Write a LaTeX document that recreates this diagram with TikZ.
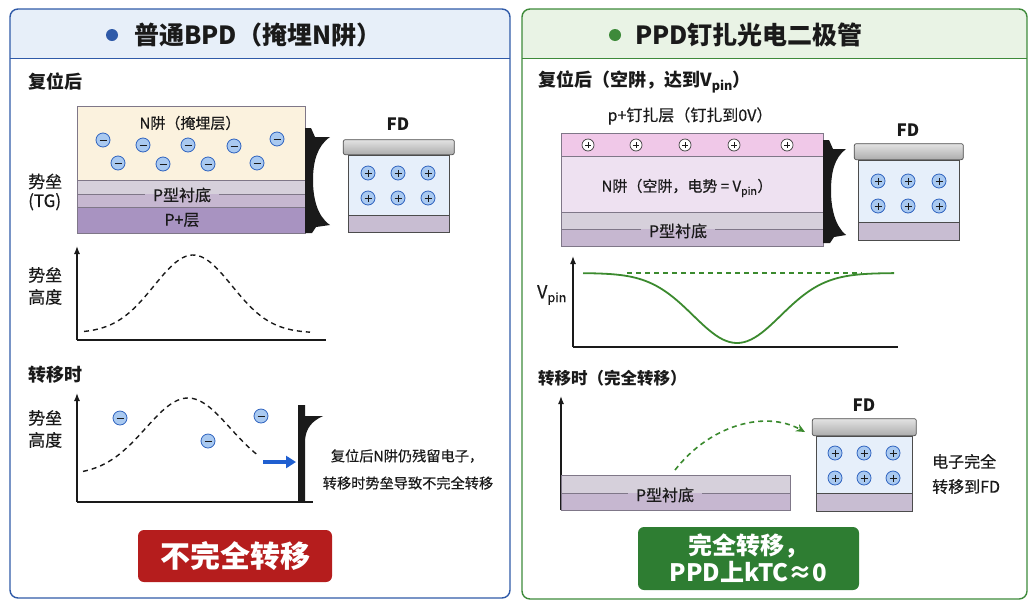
\documentclass[tikz,border=0pt]{standalone}
\usepackage{fontspec}
\setmainfont{Noto Sans CJK SC}[UprightFeatures={FakeBold=0.4}]
\usetikzlibrary{positioning, arrows.meta, calc}

\definecolor{lborder}{HTML}{2F5AA8}
\definecolor{lhead}{HTML}{E7EFF9}
\definecolor{rborder}{HTML}{3E8A3A}
\definecolor{rhead}{HTML}{E9F3E5}
\definecolor{ncream}{HTML}{FBF2DE}
\definecolor{subtop}{HTML}{D6D0DB}
\definecolor{subbot}{HTML}{C6B7D0}
\definecolor{pplus}{HTML}{A893C1}
\definecolor{layeredge}{HTML}{7F7788}
\definecolor{elecfill}{HTML}{A9C9F0}
\definecolor{elecedge}{HTML}{2F63BF}
\definecolor{fdfill}{HTML}{E6EFFA}
\definecolor{fdstrip}{HTML}{C8BDD2}
\definecolor{pinpink}{HTML}{F0C8E8}
\definecolor{nlav}{HTML}{EEE1F1}
\definecolor{curvegreen}{HTML}{3B8A2E}
\definecolor{arrowblue}{HTML}{1F5FD0}
\definecolor{btnred}{HTML}{B51D1D}
\definecolor{btngreen}{HTML}{2E7D32}
\definecolor{ink}{HTML}{1A1A1A}

\begin{document}
\begin{tikzpicture}[x=1pt, y=-1pt,
  layer/.style={draw=layeredge, line width=0.6pt, inner sep=0pt, anchor=north west},
  subsplit/.style={layer, fill=subbot, path picture={\fill[subtop] (path picture bounding box.north west) rectangle (path picture bounding box.east);}},
  elec/.style={circle, draw=elecedge, fill=elecfill, line width=0.8pt, minimum size=14pt, inner sep=0pt,
    path picture={\draw[ink, line width=1pt] ([xshift=-3.5pt]path picture bounding box.center) -- ([xshift=3.5pt]path picture bounding box.center);}},
  hole/.style={circle, draw=elecedge, fill=elecfill, line width=0.8pt, minimum size=14pt, inner sep=0pt,
    path picture={\draw[ink, line width=1pt] ([xshift=-3.5pt]path picture bounding box.center) -- ([xshift=3.5pt]path picture bounding box.center)
      ([yshift=-3.5pt]path picture bounding box.center) -- ([yshift=3.5pt]path picture bounding box.center);}},
  pinhole/.style={circle, draw=ink!85, fill=white, line width=0.7pt, minimum size=12pt, inner sep=0pt,
    path picture={\draw[ink, line width=0.8pt] ([xshift=-3pt]path picture bounding box.center) -- ([xshift=3pt]path picture bounding box.center)
      ([yshift=-3pt]path picture bounding box.center) -- ([yshift=3pt]path picture bounding box.center);}},
  fdcap/.style={draw=gray!60!black, line width=0.7pt, rounded corners=2pt, top color=gray!22, bottom color=gray!65, inner sep=0pt},
  fdwell/.style={draw=gray!60!black, line width=0.6pt, fill=fdfill, inner sep=0pt},
  fdsub/.style={draw=gray!60!black, line width=0.6pt, fill=fdstrip, inner sep=0pt},
  txt/.style={text=ink, inner sep=0pt},
  axis/.style={ink, line width=1.3pt},
  barrier/.style={dash pattern=on 5pt off 4pt, line width=1.4pt, ink}]

\useasboundingbox (0,0) rectangle (1035,611);

% left panel
\begin{scope}
  \clip[rounded corners=8pt] (10,9) rectangle (510,598);
  \fill[lhead] (10,9) rectangle (510,58);
\end{scope}
\draw[lborder, line width=1.4pt, rounded corners=8pt] (10,9) rectangle (510,598);
\draw[lborder, line width=1pt] (10,58) -- (510,58);
\node[circle, fill=lborder, minimum size=12pt, inner sep=0pt] (ldot) at (112,35) {};
\node[txt, font=\bfseries\fontsize{25}{30}\selectfont, right=16pt of ldot] (ltitle) {普通BPD（掩埋N阱）};

\node[txt, font=\bfseries\fontsize{18}{22}\selectfont, anchor=west] (lreset) at (28,82) {复位后};
\node[txt, font=\fontsize{17}{19}\selectfont, align=left, anchor=west] (ltg) at (28,192) {势垒\\(TG)};

\node[layer, fill=ncream, minimum width=228pt, minimum height=74pt] (lwell) at (77,106) {};
\node[subsplit, minimum width=228pt, minimum height=27pt] (lsub) at (77,180) {};
\node[layer, fill=pplus, minimum width=228pt, minimum height=26pt] (lplus) at (77,207) {};
\node[txt, font=\fontsize{15}{18}\selectfont] (lwelltxt) at (190,123) {N阱（掩埋层）};
\node[txt, font=\fontsize{16}{18}\selectfont, fill=none] (lsubtxt) at (182,195) {P型衬底};
\draw[layeredge, line width=0.6pt] (lsub.west) -- ([xshift=-8pt]lsubtxt.west |- lsub.west);
\draw[layeredge, line width=0.6pt] ([xshift=8pt]lsubtxt.east |- lsub.east) -- (lsub.east);
\node[txt, font=\fontsize{16}{18}\selectfont] (lplustxt) at (182,220) {P+层};

\node[elec] (le1) at (103,140) {};
\node[elec] (le2) at (143,145) {};
\node[elec] (le3) at (188,145) {};
\node[elec] (le4) at (234,146) {};
\node[elec] (le5) at (277,139) {};
\node[elec] (le6) at (118,163) {};
\node[elec] (le7) at (163,164) {};
\node[elec] (le8) at (208,164) {};
\node[elec] (le9) at (257,163) {};

\begin{scope}[shift={(305,128)}]
  \fill[ink] (0,0) -- (6,0) -- (10,9) -- (25,9) .. controls (12,18) and (8,34) .. (8,52)
    .. controls (8,70) and (12,88) .. (25,97) -- (11,99) -- (7,105) -- (0,105) -- cycle;
\end{scope}

\node[fdwell, minimum width=101pt, minimum height=77pt, anchor=north west] (lfd) at (348,155) {};
\node[fdsub, minimum width=101pt, minimum height=17pt, anchor=south] (lfdsub) at (lfd.south) {};
\node[fdcap, minimum width=111pt, minimum height=15pt, anchor=south] (lfdcap) at (lfd.north) {};
\node[txt, font=\bfseries\fontsize{17}{20}\selectfont] (lfdtxt) at (398,124) {FD};
\node[hole] (lh1) at (368,173) {};
\node[hole] (lh2) at (398,173) {};
\node[hole] (lh3) at (428,173) {};
\node[hole] (lh4) at (368,198) {};
\node[hole] (lh5) at (398,198) {};
\node[hole] (lh6) at (428,198) {};

% barrier height, reset
\coordinate (lg1o) at (77,340);
\coordinate (lg1y) at (77,246);
\coordinate (lg1x) at (326,340);
\draw[axis, -{Latex[length=8pt,width=6pt]}] (lg1o) -- (lg1y);
\draw[axis] (lg1o) -- (lg1x);
\draw[barrier] plot[domain=84:310, samples=70] (\x, {333-78*exp(-((\x-193)/55)^2)});
\node[txt, font=\fontsize{17}{22}\selectfont, align=left, anchor=west] (lg1lbl) at (28,286) {势垒\\高度};

% barrier height, transfer
\node[txt, font=\bfseries\fontsize{18}{22}\selectfont, anchor=west] (ltrans) at (28,375) {转移时};
\coordinate (lg2o) at (77,502);
\coordinate (lg2y) at (77,393);
\coordinate (lg2x) at (313,502);
\draw[axis, -{Latex[length=8pt,width=6pt]}] (lg2o) -- (lg2y);
\draw[axis] (lg2o) -- (lg2x);
\draw[barrier] plot[domain=83:257, samples=60] (\x, {475-77*exp(-((\x-188)/60)^2)});
\node[txt, font=\fontsize{17}{22}\selectfont, align=left, anchor=west] (lg2lbl) at (28,429) {势垒\\高度};
\node[elec] (lt1) at (120,418) {};
\node[elec] (lt2) at (208,441) {};
\node[elec] (lt3) at (261,416) {};
\fill[ink] (298,405) -- (305,405) -- (305,416) -- (323,416) .. controls (312,421) and (306,428) .. (305,440)
  -- (305,502) -- (298,502) -- cycle;
\coordinate (lpush) at (263,462);
\coordinate (lwall) at (296,462);
\draw[arrowblue, line width=3.2pt, -{Triangle[length=10pt,width=12pt]}] (lpush) -- (lwall);
\node[txt, font=\fontsize{14.2}{17}\selectfont] (lnote1) at (407,456) {复位后N阱仍残留电子，};
\node[txt, font=\fontsize{14.2}{17}\selectfont] (lnote2) at (408,483) {转移时势垒导致不完全转移};

\node[fill=btnred, rounded corners=6pt, minimum width=194pt, minimum height=52pt, text=white,
  font=\bfseries\fontsize{30}{34}\selectfont] (lbtn) at (235,556) {不完全转移};

% right panel
\begin{scope}
  \clip[rounded corners=8pt] (522,9) rectangle (1027,599);
  \fill[rhead] (522,9) rectangle (1027,58);
\end{scope}
\draw[rborder, line width=1.4pt, rounded corners=8pt] (522,9) rectangle (1027,599);
\draw[rborder, line width=1pt] (522,58) -- (1027,58);
\node[circle, fill=rborder, minimum size=12pt, inner sep=0pt] (rdot) at (615,35) {};
\node[txt, font=\bfseries\fontsize{25}{30}\selectfont, right=14pt of rdot] (rtitle) {PPD钉扎光电二极管};

\node[txt, font=\bfseries\fontsize{18}{22}\selectfont, anchor=west] (rreset) at (538,82) {复位后（空阱，达到V\textsubscript{pin}）};
\node[txt, font=\fontsize{16}{19}\selectfont] (rpintxt) at (690,116) {p+钉扎层（钉扎到0V）};

\node[layer, fill=pinpink, minimum width=262pt, minimum height=23pt] (rpin) at (561,133) {};
\node[layer, fill=nlav, minimum width=262pt, minimum height=56pt] (rwell) at (561,156) {};
\node[subsplit, minimum width=262pt, minimum height=34pt] (rsub) at (561,212) {};
\node[pinhole] (rp1) at (588,145) {};
\node[pinhole] (rp2) at (636,145) {};
\node[pinhole] (rp3) at (685,145) {};
\node[pinhole] (rp4) at (734,145) {};
\node[pinhole] (rp5) at (787,145) {};
\node[txt, font=\fontsize{15}{18}\selectfont] (rwelltxt) at (687,188) {N阱（空阱，电势 = V\textsubscript{pin}）};
\node[txt, font=\fontsize{16}{18}\selectfont] (rsubtxt) at (678,231) {P型衬底};
\draw[layeredge, line width=0.6pt] (rsub.west) -- ([xshift=-8pt]rsubtxt.west |- rsub.west);
\draw[layeredge, line width=0.6pt] ([xshift=8pt]rsubtxt.east |- rsub.east) -- (rsub.east);

\begin{scope}[shift={(823,140)}]
  \fill[ink] (0,0) -- (6,0) -- (10,9) -- (23,9) .. controls (11,18) and (8,33) .. (8,51)
    .. controls (8,68) and (12,86) .. (23,95) -- (11,97) -- (7,103) -- (0,103) -- cycle;
\end{scope}

\node[fdwell, minimum width=101pt, minimum height=80pt, anchor=north west] (rfd) at (858,160) {};
\node[fdsub, minimum width=101pt, minimum height=18pt, anchor=south] (rfdsub) at (rfd.south) {};
\node[fdcap, minimum width=109pt, minimum height=16pt, anchor=south] (rfdcap) at (rfd.north) {};
\node[txt, font=\bfseries\fontsize{17}{20}\selectfont] (rfdtxt) at (908,130) {FD};
\node[hole] (rh1) at (878,181) {};
\node[hole] (rh2) at (908,181) {};
\node[hole] (rh3) at (939,181) {};
\node[hole] (rh4) at (878,206) {};
\node[hole] (rh5) at (908,206) {};
\node[hole] (rh6) at (939,206) {};

% potential well
\coordinate (rg1o) at (573,347);
\coordinate (rg1y) at (573,256);
\coordinate (rg1x) at (898,347);
\draw[axis, -{Latex[length=8pt,width=6pt]}] (rg1o) -- (rg1y);
\draw[axis] (rg1o) -- (rg1x);
\draw[curvegreen, dash pattern=on 5pt off 4pt, line width=1.3pt] (627,273) -- (862,273);
\draw[curvegreen, line width=1.8pt] plot[domain=583:894, samples=90] (\x, {273+70*exp(-((\x-737)/62)^2)});
\node[txt, font=\fontsize{18}{20}\selectfont] (rvpin) at (552,295) {V\textsubscript{pin}};

% complete transfer
\node[txt, font=\bfseries\fontsize{16.5}{20}\selectfont, anchor=west] (rtrans) at (538,378) {转移时（完全转移）};
\coordinate (rg2o) at (561,510);
\coordinate (rg2y) at (561,396);
\draw[axis, -{Latex[length=8pt,width=6pt]}] (rg2o) -- (rg2y);
\node[subsplit, minimum width=229pt, minimum height=35pt] (rsub2) at (561,475) {};
\node[txt, font=\fontsize{16}{18}\selectfont] (rsub2txt) at (665,495) {P型衬底};
\draw[layeredge, line width=0.6pt] (rsub2.west) -- ([xshift=-8pt]rsub2txt.west |- rsub2.west);
\draw[layeredge, line width=0.6pt] ([xshift=8pt]rsub2txt.east |- rsub2.east) -- (rsub2.east);

\node[fdwell, minimum width=96pt, minimum height=75pt, anchor=north west] (rfd2) at (816,436) {};
\node[fdsub, minimum width=96pt, minimum height=18pt, anchor=south] (rfd2sub) at (rfd2.south) {};
\node[fdcap, minimum width=104pt, minimum height=17pt, anchor=south] (rfd2cap) at (rfd2.north) {};
\node[txt, font=\bfseries\fontsize{17}{20}\selectfont] (rfd2txt) at (864,405) {FD};
\node[hole] (rq1) at (835,453) {};
\node[hole] (rq2) at (864,453) {};
\node[hole] (rq3) at (893,453) {};
\node[hole] (rq4) at (835,478) {};
\node[hole] (rq5) at (864,478) {};
\node[hole] (rq6) at (893,478) {};

\coordinate (rjump) at (675,470);
\coordinate (rland) at (805,432);
\draw[curvegreen, dash pattern=on 5pt off 4pt, line width=1.6pt, -{Stealth[length=9pt,width=8pt]}]
  (rjump) .. controls (710,425) and (765,410) .. (rland);
\node[txt, font=\fontsize{16}{25}\selectfont, align=left, anchor=west] (rnote) at (932,474) {电子完全\\转移到FD};

\node[fill=btngreen, rounded corners=6pt, minimum width=221pt, minimum height=63pt, text=white, align=center,
  font=\bfseries\fontsize{24}{27}\selectfont] (rbtn) at (748.5,558.5) {完全转移，\\PPD上kTC≈0};
\end{tikzpicture}
\end{document}
